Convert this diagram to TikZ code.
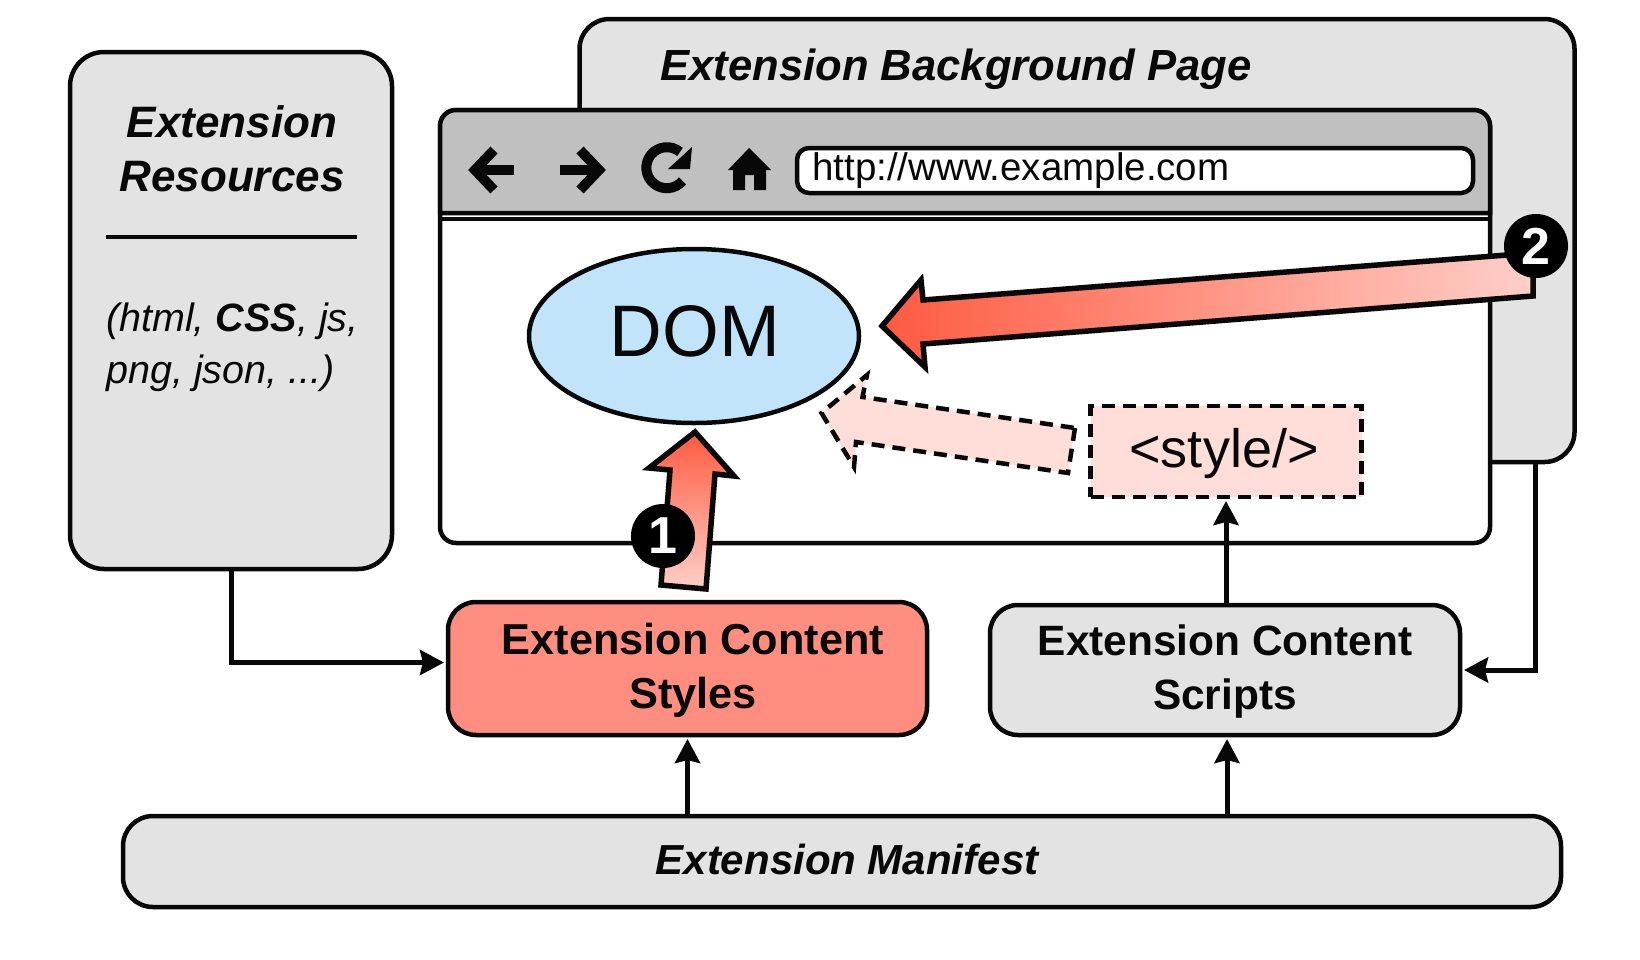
\documentclass[tikz,border=0pt]{standalone}
\usepackage{fontspec}
\setmainfont{Liberation Sans}
\usetikzlibrary{arrows.meta,shapes.geometric}
\definecolor{panelgray}{HTML}{E3E3E3}
\definecolor{barsgray}{HTML}{C0C0C0}
\definecolor{inkblack}{HTML}{080808}
\definecolor{domblue}{HTML}{C2E4FB}
\definecolor{stylered}{HTML}{FF8E80}
\definecolor{palered}{HTML}{FFDDD8}
\definecolor{hotred}{HTML}{FF5A40}
\definecolor{softred}{HTML}{FFCFC8}
\newcommand{\fsize}[1]{\fontsize{#1}{#1}\selectfont}
\tikzset{
  panel/.style={draw=inkblack,line width=4.5pt,fill=panelgray,outer sep=0pt,inner sep=0pt},
  caption/.style={text=inkblack,align=center,inner sep=0pt},
  flow/.style={draw=inkblack,line width=5pt,shorten >=4pt,-{Stealth[length=24pt,width=25pt,inset=3pt]}},
  badge/.style={circle,fill=black,text=white,font=\bfseries\fsize{52},minimum size=64pt,inner sep=0pt},
  blockarrow/.style={draw=inkblack,line width=5.5pt,miter limit=10},
}
\begin{document}
\begin{tikzpicture}[x=1pt,y=-1pt]
\useasboundingbox [fill=white] (0,0) rectangle (1640,959);
% panels
\node[panel,rounded corners=34pt,minimum width=322pt,minimum height=517pt] (resources) at (231,310.5) {};
\node[panel,rounded corners=30pt,minimum width=995pt,minimum height=443pt] (page) at (1077,240.5) {};
\node[panel,rounded corners=16pt,fill=white,minimum width=1050pt,minimum height=433pt] (browser) at (965,326.5) {};
\draw[draw=inkblack,line width=4.5pt,fill=barsgray] (browser.west |- 0,213) [rounded corners=16pt] -- (browser.north west) -- (browser.north east) [sharp corners] -- (browser.east |- 0,213) -- cycle;
\draw[draw=inkblack,line width=3.5pt] (browser.west |- 0,219) -- (browser.east |- 0,219);
% toolbar icons
\foreach \x/\s in {491/-1,583/1} {
  \draw[inkblack,line width=10pt] (\x-\s*23,170) -- (\x+\s*15,170);
  \draw[inkblack,line width=10pt] (\x-\s*3,150) -- (\x+\s*16,170) -- (\x-\s*3,190);
}
\draw[inkblack,line width=10pt] (680,152) arc[start angle=50,end angle=320,radius=20.5pt];
\fill[inkblack] (692,147) -- (690,169) -- (668,169) -- cycle;
\fill[inkblack] (749,148) -- (771,170) -- (766,170) -- (766,190) -- (754,190) -- (754,175) -- (745,175) -- (745,190) -- (733,190) -- (733,170) -- (728,170) -- cycle;
\node[panel,fill=white,rounded corners=12pt,minimum width=676pt,minimum height=45pt] (url) at (1135,170.5) {};
\node[caption,anchor=west,font=\fsize{38.5}] (urltext) at (812,171) {http://www.example.com};
% dom and style box
\node[panel,ellipse,fill=domblue,minimum width=330pt,minimum height=174pt] (dom) at (694,336) {};
\node[caption,font=\fsize{73}] (domtext) at (695,331) {DOM};
\node[panel,fill=palered,line width=4.5pt,dash pattern=on 13pt off 8pt,minimum width=271pt,minimum height=91pt] (stylebox) at (1226,451.5) {};
\node[caption,font=\fsize{54}] (styletext) at (1224,454) {<style/>};
% lower boxes
\node[panel,fill=stylered,rounded corners=28pt,minimum width=479pt,minimum height=133pt] (styles) at (687.5,668.5) {};
\node[panel,rounded corners=28pt,minimum width=470pt,minimum height=130pt] (scripts) at (1225,670) {};
\node[panel,rounded corners=30pt,minimum width=1438pt,minimum height=91pt] (manifest) at (842,861.5) {};
% texts
\node[caption,font=\bfseries\itshape\fsize{43.6}] (pagetitle) at (956,69) {Extension Background Page};
\node[caption,font=\bfseries\itshape\fsize{44}] (restitle) at (232,149) {Extension\\[10pt]Resources};
\draw[inkblack,line width=3.5pt] (106,237) -- (357,237);
\node[caption,anchor=north west,align=left,font=\itshape\fsize{39.5}] (reslist) at (106,303) {(html, \textbf{CSS}, js,\\[12pt]png, json, ...)};
\node[caption,font=\bfseries\fsize{43.3}] (stylestext) at (693,670.5) {Extension Content\\[11pt]Styles};
\node[caption,font=\bfseries\fsize{42.4}] (scriptstext) at (1225,671.5) {Extension Content\\[12pt]Scripts};
\node[caption,font=\bfseries\itshape\fsize{42}] (manifesttext) at (847,859) {Extension Manifest};
% connectors
\coordinate (pageout) at (1535,462);
\draw[flow] (resources.south) |- ([yshift=6pt]styles.west);
\draw[flow] (pageout) |- (scripts.east);
\draw[flow] (styles.south |- manifest.north) -- (styles.south);
\draw[flow] ([xshift=2pt]scripts.south |- manifest.north) -- ([xshift=2pt]scripts.south);
\draw[flow] (stylebox.south |- scripts.north) -- (stylebox.south);
% block arrows
\draw[blockarrow,left color=hotred,right color=softred] (882,326) -- (921,280) -- (923,300) -- (1533,253) -- (1533,296) -- (923,344) -- (925,367) -- cycle;
\draw[blockarrow,top color=hotred,bottom color=softred] (695,432) -- (649,468) -- (670,470) -- (661,585) -- (706,589) -- (715,474) -- (734,476) -- cycle;
\draw[draw=inkblack,line width=4.5pt,fill=palered,dash pattern=on 13pt off 8pt] (1075,428) -- (1068,473) -- (856,442) -- (854,467) -- (821.5,413) -- (867,375) -- (862.5,397) -- cycle;
% badges
\node[badge] (badgeone) at (663,536) {1};
\node[badge] (badgetwo) at (1536,246) {2};
\end{tikzpicture}
\end{document}
